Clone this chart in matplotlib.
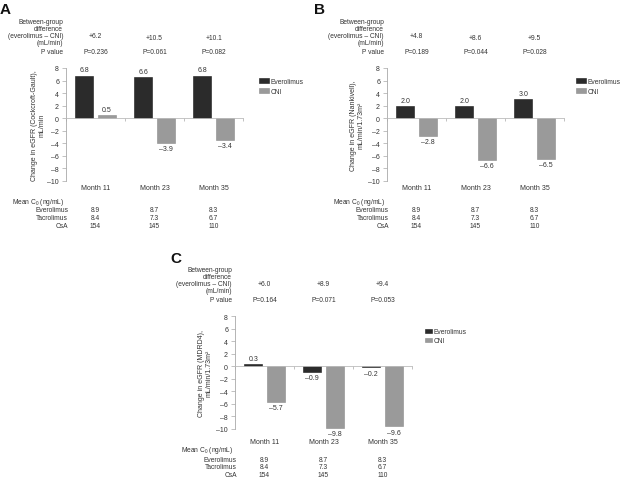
import matplotlib
matplotlib.use("Agg")
import matplotlib.pyplot as plt
from matplotlib.patches import Patch
from matplotlib.transforms import blended_transform_factory
import numpy as np

plt.rcParams["font.family"] = ["Liberation Sans", "DejaVu Sans"]
plt.rcParams["mathtext.fontset"] = "custom"
plt.rcParams["mathtext.rm"] = "Liberation Sans"
plt.rcParams["mathtext.it"] = "Liberation Sans:italic"

# ── Data ───────────────────────────────────────────────────────────
months = ["Month 11", "Month 23", "Month 35"]

evero_a = [6.8, 6.6, 6.8]
cni_a = [0.5, -3.9, -3.4]
diff_a = ["+6.2", "+10.5", "+10.1"]
pval_a = ["P=0.236", "P=0.061", "P=0.082"]

evero_b = [2.0, 2.0, 3.0]
cni_b = [-2.8, -6.6, -6.5]
diff_b = ["+4.8", "+8.6", "+9.5"]
pval_b = ["P=0.189", "P=0.044", "P=0.028"]

evero_c = [0.3, -0.9, -0.2]
cni_c = [-5.7, -9.8, -9.6]
diff_c = ["+6.0", "+8.9", "+9.4"]
pval_c = ["P=0.164", "P=0.071", "P=0.053"]

c0_everolimus = ["8.9", "8.7", "8.3"]
c0_tacrolimus = ["8.4", "7.3", "6.7"]
c0_csa = ["154", "145", "110"]

yticks = [8, 6, 4, 2, 0, -2, -4, -6, -8, -10]

# ── Style ──────────────────────────────────────────────────────────
W, H = 623, 481
TEXT = "#333333"
DARK = "#2b2b2b"
GREY = "#9a9a9a"
AXC = "#a8a8a8"
FS = 4.8      # header / table / legend
FS2 = 5.0     # ticks, months, bar labels


def fx(x):
    return x / W


def fy(y):
    return 1 - y / H


def fmt(v):
    s = f"{abs(v):.1f}"
    return ("–" + s) if v < 0 else s


def panel(fig, letter, left, top, evero, cni, diffs, pvals, ylabel,
          leg_xy, letter_xy, leg_small=False, diff_dy=(0, 3, 3), ylab_x=-0.16,
          month_dy=119, table_dy=133):
    # axes rectangle in pixels: left spine x, top y (value 8), 177 x 113
    ax = fig.add_axes([fx(left), fy(top + 113), 177 / W, 113 / H])
    x = np.arange(len(months))
    w, off = 0.31, 0.19
    b1 = ax.bar(x - off, evero, w, color=DARK, edgecolor="#1a1a1a", linewidth=0.4)
    b2 = ax.bar(x + off, cni, w, color=GREY, edgecolor="#8a8a8a", linewidth=0.4)
    for bars, vals in [(b1, evero), (b2, cni)]:
        for r, v in zip(bars, vals):
            cx = r.get_x() + r.get_width() / 2
            if v >= 0:
                ax.annotate(fmt(v), (cx, v), xytext=(0, 1.5), textcoords="offset points",
                            ha="center", va="bottom", fontsize=FS2, color=TEXT)
            else:
                ax.annotate(fmt(v), (cx, v), xytext=(0, -1.5), textcoords="offset points",
                            ha="center", va="top", fontsize=FS2, color=TEXT)

    ax.set_xlim(-0.5, 2.5)
    ax.set_ylim(-10, 8)
    ax.set_yticks(yticks)
    ax.set_yticklabels([fmt(t).replace(".0", "") if t != 0 else "0" for t in yticks])
    ax.tick_params(axis="y", length=3, width=0.5, color=AXC, labelsize=FS2,
                   labelcolor=TEXT, pad=2)
    ax.set_xticks([-0.5, 0.5, 1.5, 2.5])
    ax.set_xticklabels([])
    ax.tick_params(axis="x", length=2, width=0.5, color=AXC, direction="out")
    for sp in ["top", "right"]:
        ax.spines[sp].set_visible(False)
    ax.spines["left"].set_color(AXC)
    ax.spines["left"].set_linewidth(0.6)
    ax.spines["bottom"].set_position(("data", 0))
    ax.spines["bottom"].set_color("#bbbbbb")
    ax.spines["bottom"].set_linewidth(0.6)
    ax.set_facecolor("none")

    ax.set_ylabel(ylabel, fontsize=FS2, color=TEXT, linespacing=1.1, va="center")
    ax.yaxis.set_label_coords(ylab_x, 0.5)

    tr = blended_transform_factory(ax.transData, fig.transFigure)
    # month labels
    for i, m in enumerate(months):
        ax.text(i, fy(top + month_dy), m, transform=tr, ha="center", va="center",
                fontsize=FS2, color=TEXT)

    # header
    hx = fx(left - 3)
    fig.text(fx(letter_xy[0]), fy(letter_xy[1]), letter, fontsize=11, fontweight="bold",
             color="#111111", ha="left", va="center")
    fig.text(hx, fy(top - 36), "Between-group\ndifference\n(everolimus – CNI)\n(mL/min)",
             ha="right", va="center", multialignment="right", fontsize=FS,
             color=TEXT, linespacing=0.95)
    fig.text(hx, fy(top - 16), "P value", ha="right", va="center", fontsize=FS, color=TEXT)
    for i in range(3):
        ax.text(i, fy(top - 33 + diff_dy[i]), diffs[i], transform=tr, ha="center",
                va="center", fontsize=FS, color=TEXT)
        ax.text(i, fy(top - 16), pvals[i], transform=tr, ha="center",
                va="center", fontsize=FS, color=TEXT)

    # Mean C0 table
    tx = fx(left + 2)
    rows = [("Everolimus", c0_everolimus), ("Tacrolimus", c0_tacrolimus), ("CsA", c0_csa)]
    fig.text(fx(left - 2), fy(top + table_dy), "Mean C$_0$ (ng/mL)", ha="right", va="center",
             fontsize=FS, color=TEXT)
    for k, (name, vals) in enumerate(rows):
        yy = fy(top + table_dy + 9 + 8 * k)
        fig.text(tx, yy, name, ha="right", va="center", fontsize=FS, color=TEXT)
        for i, v in enumerate(vals):
            ax.text(i, yy, v, transform=tr, ha="center", va="center",
                    fontsize=FS, color=TEXT)

    handles = [Patch(facecolor=DARK, edgecolor="#1a1a1a", linewidth=0.4, label="Everolimus"),
               Patch(facecolor=GREY, edgecolor="#8a8a8a", linewidth=0.4, label="CNI")]
    if leg_small:
        hl, hh, ls = 1.0, 0.6, 0.3
    else:
        hl, hh, ls = 1.45, 0.75, 0.45
    ax.legend(handles=handles, loc="upper left", bbox_to_anchor=(fx(leg_xy[0]), fy(leg_xy[1])),
              bbox_transform=fig.transFigure, frameon=False, fontsize=FS, labelcolor=TEXT,
              handlelength=hl, handleheight=hh, handletextpad=0.25, labelspacing=ls,
              borderpad=0, borderaxespad=0)
    return ax


fig = plt.figure(figsize=(W / 100, H / 100), dpi=100)
fig.patch.set_facecolor("white")

panel(fig, "A", 66, 69, evero_a, cni_a, diff_a, pval_a,
      "Change in eGFR (Cockcroft-Gault),\nmL/min", (259, 79), (0, 10), ylab_x=-0.155)
panel(fig, "B", 387, 69, evero_b, cni_b, diff_b, pval_b,
      "Change in eGFR (Nankivell),\nmL/min/1.73m²", (576, 79), (314, 10), ylab_x=-0.17)
panel(fig, "C", 235, 317, evero_c, cni_c, diff_c, pval_c,
      "Change in eGFR (MDRD4),\nmL/min/1.73m²", (425, 329), (170, 259), leg_small=True,
      diff_dy=(0, 0, 0), ylab_x=-0.17, month_dy=125, table_dy=134)

fig.savefig("out.png", dpi=100, facecolor="white")
